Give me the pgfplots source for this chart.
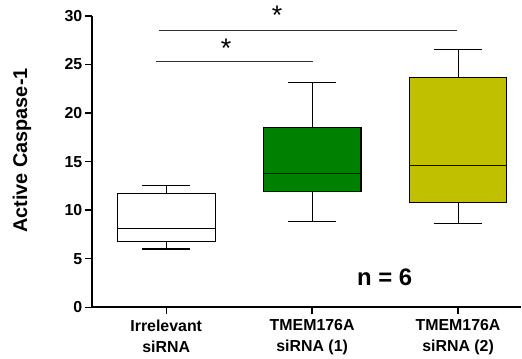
\documentclass[border=0pt]{standalone}
\usepackage{pgfplots}
\pgfplotsset{compat=1.18}
\usepgfplotslibrary{statistics}
\usepackage{fontspec}
\setmainfont{Liberation Sans}
\definecolor{boxgreen}{RGB}{0,128,0}
\definecolor{boxolive}{RGB}{192,192,0}
\definecolor{siggray}{RGB}{50,50,50}
\begin{document}
\begin{tikzpicture}
\begin{axis}[
  scale only axis, width=430bp, height=292bp,
  xmin=-0.51, xmax=2.43, ymin=0, ymax=30,
  axis x line*=bottom, axis y line*=left,
  axis line style={line width=2.4bp, black},
  clip=false,
  boxplot/draw direction=y,
  ytick={0,5,...,30},
  xtick={0,1,2},
  xticklabels={{Irrelevant\\siRNA},{TMEM176A\\siRNA (1)},{TMEM176A\\siRNA (2)}},
  x tick label style={align=center, font=\bfseries\fontsize{16}{21}\selectfont, yshift=-2bp},
  y tick label style={font=\bfseries\fontsize{16}{18}\selectfont, xshift=1bp},
  /pgf/number format/assume math mode=true,
  tick style={black, line width=1.4bp},
  major tick length=7bp,
  tick align=outside,
  ylabel={Active Caspase-1},
  ylabel style={font=\bfseries\fontsize{20}{24}\selectfont, at={(rel axis cs:-0.1628,0.538)}, anchor=center},
]
\path (rel axis cs:-0.214,-0.1747) rectangle (rel axis cs:1,1.0548);

\addplot[boxplot prepared={draw direction=y, draw position=0, lower whisker=6.0, lower quartile=6.74, median=8.1, upper quartile=11.7, upper whisker=12.5, box extend=0.67, whisker extend=0.33}, draw=black, fill=white, line width=1.1bp, solid, mark=none] coordinates {};
\addplot[boxplot prepared={draw direction=y, draw position=1, lower whisker=8.87, lower quartile=11.88, median=13.77, upper quartile=18.5, upper whisker=23.15, box extend=0.67, whisker extend=0.33}, draw=black, fill=boxgreen, line width=1.1bp, solid, mark=none] coordinates {};
\addplot[boxplot prepared={draw direction=y, draw position=2, lower whisker=8.63, lower quartile=10.79, median=14.6, upper quartile=23.67, upper whisker=26.55, box extend=0.67, whisker extend=0.33}, draw=black, fill=boxolive, line width=1.1bp, solid, mark=none] coordinates {};

\addplot[siggray, line width=1.3bp, mark=none] coordinates {(-0.05,28.47) (1.99,28.47)};
\addplot[siggray, line width=1.3bp, mark=none] coordinates {(-0.07,25.33) (1.005,25.33)};
\node[anchor=center, inner sep=0pt, font=\fontsize{27}{27}\selectfont] at (axis cs:0.76,30.04) {*};
\node[anchor=center, inner sep=0pt, font=\fontsize{27}{27}\selectfont] at (axis cs:0.41,26.63) {*};
\node[anchor=base west, font=\bfseries\fontsize{24}{28}\selectfont] at (axis cs:1.284,2.22) {n = 6};
\end{axis}
\end{tikzpicture}
\end{document}
